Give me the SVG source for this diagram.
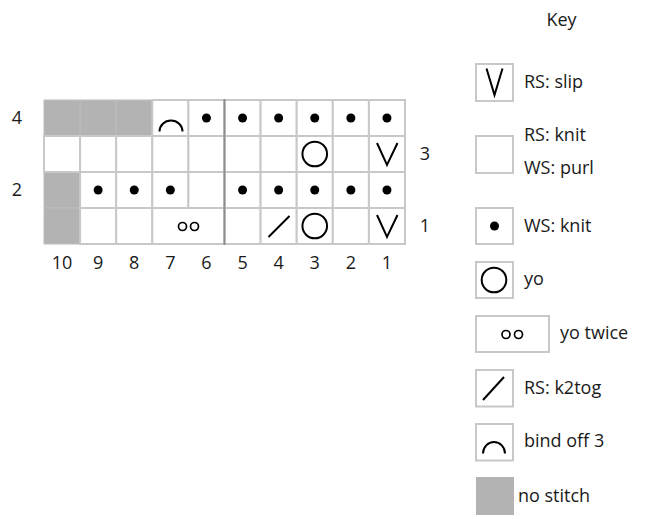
<svg xmlns="http://www.w3.org/2000/svg" width="671" height="519" viewBox="0 0 671 519">
<style>
text{font-family:"Open Sans","Noto Sans","DejaVu Sans",sans-serif;font-size:18px;fill:#1a1a1a}
.c{text-anchor:middle}
.cell{fill:#fff;stroke:#c8c8c8;stroke-width:2}
.ns{fill:#b3b3b3;stroke:#bdbdbd;stroke-width:1}
.sym{fill:none;stroke:#000;stroke-width:2}
.thin{fill:none;stroke:#000;stroke-width:1.7}
.dot{fill:#000}
</style>
<rect width="671" height="519" fill="#fff"/>
<g id="chart">
<g id="nostitch-cells">
<rect class="ns" x="44" y="100" width="36.1" height="36"/>
<rect class="ns" x="80.1" y="100" width="36.1" height="36"/>
<rect class="ns" x="116.2" y="100" width="36.1" height="36"/>
<rect class="ns" x="44" y="172" width="36.1" height="36"/>
<rect class="ns" x="44" y="208" width="36.1" height="36"/>
</g>
<g id="grid">
<rect class="cell" x="152.3" y="100" width="36.1" height="36"/>
<rect class="cell" x="188.4" y="100" width="36.1" height="36"/>
<rect class="cell" x="224.5" y="100" width="36.1" height="36"/>
<rect class="cell" x="260.6" y="100" width="36.1" height="36"/>
<rect class="cell" x="296.7" y="100" width="36.1" height="36"/>
<rect class="cell" x="332.8" y="100" width="36.1" height="36"/>
<rect class="cell" x="368.9" y="100" width="36.1" height="36"/>
<rect class="cell" x="44" y="136" width="36.1" height="36"/>
<rect class="cell" x="80.1" y="136" width="36.1" height="36"/>
<rect class="cell" x="116.2" y="136" width="36.1" height="36"/>
<rect class="cell" x="152.3" y="136" width="36.1" height="36"/>
<rect class="cell" x="188.4" y="136" width="36.1" height="36"/>
<rect class="cell" x="224.5" y="136" width="36.1" height="36"/>
<rect class="cell" x="260.6" y="136" width="36.1" height="36"/>
<rect class="cell" x="296.7" y="136" width="36.1" height="36"/>
<rect class="cell" x="332.8" y="136" width="36.1" height="36"/>
<rect class="cell" x="368.9" y="136" width="36.1" height="36"/>
<rect class="cell" x="80.1" y="172" width="36.1" height="36"/>
<rect class="cell" x="116.2" y="172" width="36.1" height="36"/>
<rect class="cell" x="152.3" y="172" width="36.1" height="36"/>
<rect class="cell" x="188.4" y="172" width="36.1" height="36"/>
<rect class="cell" x="224.5" y="172" width="36.1" height="36"/>
<rect class="cell" x="260.6" y="172" width="36.1" height="36"/>
<rect class="cell" x="296.7" y="172" width="36.1" height="36"/>
<rect class="cell" x="332.8" y="172" width="36.1" height="36"/>
<rect class="cell" x="368.9" y="172" width="36.1" height="36"/>
<rect class="cell" x="80.1" y="208" width="36.1" height="36"/>
<rect class="cell" x="116.2" y="208" width="36.1" height="36"/>
<rect class="cell" x="152.3" y="208" width="72.2" height="36"/>
<rect class="cell" x="224.5" y="208" width="36.1" height="36"/>
<rect class="cell" x="260.6" y="208" width="36.1" height="36"/>
<rect class="cell" x="296.7" y="208" width="36.1" height="36"/>
<rect class="cell" x="332.8" y="208" width="36.1" height="36"/>
<rect class="cell" x="368.9" y="208" width="36.1" height="36"/>
<line x1="224.5" y1="99" x2="224.5" y2="245" stroke="#8f8f8f" stroke-width="2"/>
</g>
<g id="symbols">
<path class="sym" d="M159.5,131.5 A11.5,11 0 0 1 182.5,131.5"/>
<circle class="dot" cx="206.45" cy="118" r="4.5"/>
<circle class="dot" cx="242.55" cy="118" r="4.5"/>
<circle class="dot" cx="278.65" cy="118" r="4.5"/>
<circle class="dot" cx="314.75" cy="118" r="4.5"/>
<circle class="dot" cx="350.85" cy="118" r="4.5"/>
<circle class="dot" cx="386.95" cy="118" r="4.5"/>
<circle class="sym" cx="314.75" cy="154" r="12.3"/>
<path class="sym" d="M377,143 L387,165 L397.5,143"/>
<circle class="dot" cx="98.15" cy="190" r="4.5"/>
<circle class="dot" cx="134.25" cy="190" r="4.5"/>
<circle class="dot" cx="170.35" cy="190" r="4.5"/>
<circle class="dot" cx="242.55" cy="190" r="4.5"/>
<circle class="dot" cx="278.65" cy="190" r="4.5"/>
<circle class="dot" cx="314.75" cy="190" r="4.5"/>
<circle class="dot" cx="350.85" cy="190" r="4.5"/>
<circle class="dot" cx="386.95" cy="190" r="4.5"/>
<circle class="thin" cx="182.5" cy="226.5" r="4"/>
<circle class="thin" cx="194.5" cy="226.5" r="4"/>
<line class="sym" x1="268.5" y1="237" x2="289.5" y2="216"/>
<circle class="sym" cx="314.75" cy="226" r="12.3"/>
<path class="sym" d="M377,215 L387,237 L397.5,215"/>
</g>
<g id="row-labels">
<text class="c" x="17" y="124">4</text>
<text class="c" x="17" y="196">2</text>
<text class="c" x="425" y="160">3</text>
<text class="c" x="425" y="232">1</text>
</g>
<g id="col-labels">
<text class="c" x="62.05" y="269">10</text>
<text class="c" x="98.15" y="269">9</text>
<text class="c" x="134.25" y="269">8</text>
<text class="c" x="170.35" y="269">7</text>
<text class="c" x="206.45" y="269">6</text>
<text class="c" x="242.55" y="269">5</text>
<text class="c" x="278.65" y="269">4</text>
<text class="c" x="314.75" y="269">3</text>
<text class="c" x="350.85" y="269">2</text>
<text class="c" x="386.95" y="269">1</text>
</g>
</g>
<g id="connectors"/>
<g id="key">
<text id="key-title" class="c" x="561.5" y="26">Key</text>
<g id="key-slip">
<rect class="cell" x="476" y="64" width="37" height="37"/>
<path class="sym" d="M486.5,68.5 L494.5,95 L502.5,68.5"/>
<text x="524" y="88">RS: slip</text>
</g>
<g id="key-knit">
<rect class="cell" x="476" y="136" width="37" height="37"/>
<text x="524" y="141">RS: knit</text>
<text x="524" y="174">WS: purl</text>
</g>
<g id="key-wsknit">
<rect class="cell" x="476" y="208" width="37" height="36"/>
<circle class="dot" cx="494.5" cy="226" r="4.5"/>
<text x="524" y="232">WS: knit</text>
</g>
<g id="key-yo">
<rect class="cell" x="476" y="262" width="37" height="36"/>
<circle class="sym" cx="494" cy="280" r="12.3"/>
<text x="524" y="285">yo</text>
</g>
<g id="key-yotwice">
<rect class="cell" x="476" y="316" width="73" height="36"/>
<circle class="thin" cx="506" cy="334.5" r="4"/>
<circle class="thin" cx="518.5" cy="334.5" r="4"/>
<text x="560" y="339">yo twice</text>
</g>
<g id="key-k2tog">
<rect class="cell" x="476" y="370" width="37" height="36.5"/>
<line class="sym" x1="483" y1="400" x2="504" y2="377"/>
<text x="524" y="393.5">RS: k2tog</text>
</g>
<g id="key-bindoff">
<rect class="cell" x="476" y="424" width="37" height="36.5"/>
<path class="sym" d="M483,453.5 A11,11.5 0 0 1 505,453.5"/>
<text x="524" y="447">bind off 3</text>
</g>
<g id="key-nostitch">
<rect fill="#b3b3b3" x="476" y="477" width="38" height="38"/>
<text x="518" y="502">no stitch</text>
</g>
</g>
</svg>
